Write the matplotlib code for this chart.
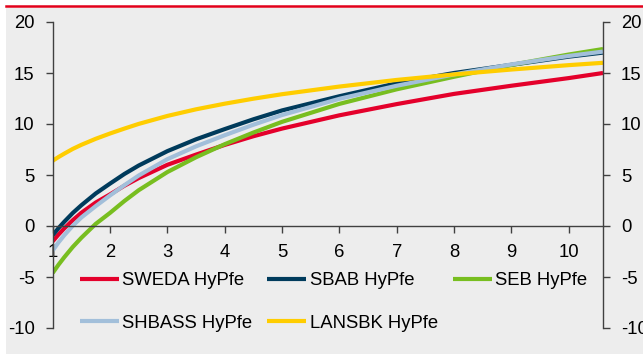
import matplotlib.pyplot as plt
from matplotlib.lines import Line2D
from matplotlib.patches import Rectangle

plt.rcParams['font.family'] = ['Liberation Sans', 'DejaVu Sans']
plt.rcParams['axes.unicode_minus'] = False

# maturity in years
years = [1, 1.1, 1.2, 1.35, 1.5, 1.75, 2, 2.25, 2.5, 3, 3.5, 4, 4.5, 5, 6, 7, 8, 9, 10, 10.6]

sweda = [-1.5, -0.84, -0.24, 0.57, 1.3, 2.3, 3.1, 3.95, 4.7, 6.0, 7.0, 7.95, 8.8, 9.55,
         10.85, 11.95, 12.95, 13.75, 14.5, 15.0]
sbab = [-0.9, -0.21, 0.41, 1.28, 2.04, 3.19, 4.16, 5.1, 5.93, 7.34, 8.5, 9.5, 10.46, 11.33,
        12.72, 13.99, 15.0, 15.8, 16.6, 17.0]
seb = [-4.6, -3.8, -3.07, -2.05, -1.15, 0.21, 1.29, 2.45, 3.51, 5.29, 6.74, 8.02, 9.16, 10.21,
       11.97, 13.4, 14.63, 15.79, 16.81, 17.35]
shbass = [-2.4, -1.61, -0.91, 0.03, 0.84, 1.95, 3.0, 4.0, 4.95, 6.55, 7.81, 8.9, 9.93, 10.88,
          12.47, 13.75, 14.86, 15.84, 16.67, 17.1]
lansbk = [6.4, 6.76, 7.09, 7.56, 7.96, 8.55, 9.07, 9.55, 10.01, 10.79, 11.44, 11.99, 12.48, 12.92,
          13.67, 14.32, 14.86, 15.34, 15.77, 16.0]

names = ['SWEDA HyPfe', 'SBAB HyPfe', 'SEB HyPfe', 'SHBASS HyPfe', 'LANSBK HyPfe']
colors = ['#E4002B', '#003B5C', '#78BE20', '#A2BFDA', '#FFCD00']
series = [sweda, sbab, seb, shbass, lansbk]

W, H = 643, 354
fig = plt.figure(figsize=(W / 100, H / 100), dpi=100)
fig.patch.set_facecolor('white')

# grey panel and red rule at the top
panel = Rectangle((6 / W, 0), 1 - 6 / W, 1 - 8 / H, transform=fig.transFigure,
                  facecolor='#EDEDED', edgecolor='none', zorder=-10)
fig.patches.append(panel)
rule = Line2D([6 / W, 1], [1 - 6.3 / H, 1 - 6.3 / H], transform=fig.transFigure,
              color='#E2001A', lw=1.8, zorder=-5)
fig.lines.append(rule)

ax = fig.add_axes([52.75 / W, 1 - 328 / H, (603 - 52.75) / W, (328 - 22) / H])
ax.set_facecolor('none')
ax.set_zorder(1)

lines = []
for vals, name, c in zip(series, names, colors):
    ln, = ax.plot(years, vals, color=c, lw=3, label=name, solid_capstyle='butt')
    lines.append(ln)

ax.set_xlim(1, 10.6)
ax.set_ylim(-10, 20)
ax.set_xticks(range(1, 11))
ax.set_yticks(range(-10, 21, 5))

for s in ['left', 'right', 'bottom']:
    ax.spines[s].set_color('#404040')
    ax.spines[s].set_linewidth(1)
ax.spines['top'].set_visible(False)
ax.spines['bottom'].set_position(('data', 0))

ax.yaxis.set_ticks_position('both')
ax.tick_params(axis='y', direction='out', length=5, width=1, color='#404040',
               labelsize=13.3, pad=8, labelright=True)
ax.tick_params(axis='x', direction='out', length=5, width=1, color='#404040',
               labelsize=13.3, pad=8)

# legend laid out row by row (matplotlib fills columns first)
order = [0, 3, 1, 4, 2]
ax.legend([lines[i] for i in order], [names[i] for i in order], ncol=3,
          loc='upper left', bbox_to_anchor=(80 / W, 1 - 272 / H), bbox_transform=fig.transFigure,
          frameon=False, fontsize=13.3, handlelength=2.1, handletextpad=0.2,
          columnspacing=0.8, labelspacing=1.4, borderpad=0, borderaxespad=0)

plt.savefig('out.png', dpi=100)
